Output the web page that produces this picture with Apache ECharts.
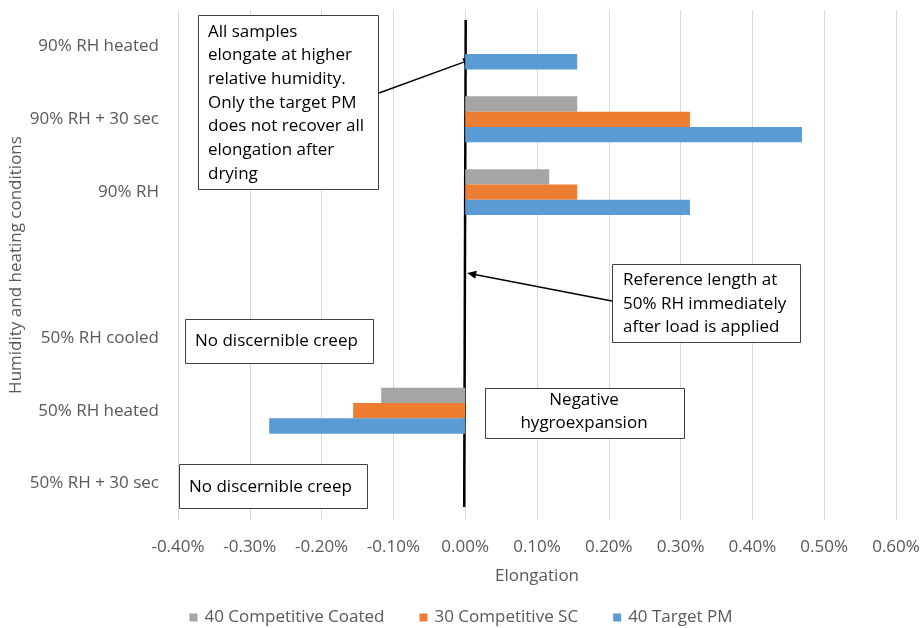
<!DOCTYPE html>
<html>
<head>
<meta charset="utf-8">
<script src="https://cdn.jsdelivr.net/npm/echarts@6/dist/echarts.min.js"></script>
<style>
  html, body { margin: 0; padding: 0; background: #fff; }
  #chart { width: 922px; height: 628px; }
</style>
</head>
<body>
<div id="chart"></div>
<script>
// Conditions, listed bottom to top; the blank slot separates the 50% and 90% RH groups
const conditions = ['50% RH + 30 sec', '50% RH heated', '50% RH cooled', '', '90% RH', '90% RH + 30 sec', '90% RH heated'];

// Elongation in percent
const targetPM = [0, -0.273, 0, null, 0.313, 0.469, 0.156];
const competitiveSC = [0, -0.156, 0, null, 0.156, 0.313, null];
const competitiveCoated = [0, -0.117, 0, null, 0.117, 0.156, null];

const xMin = -0.4, xMax = 0.6, xStep = 0.1;

const FONT = '"Open Sans", "Noto Sans", sans-serif';
const GREY_TEXT = '#595959';
const FS = 17;
const Y_TITLE = 'Humidity and heating conditions';

const chart = echarts.init(document.getElementById('chart'));

function bar(name, color, data) {
  return {
    name: name,
    type: 'bar',
    data: data,
    barGap: '0%',
    barCategoryGap: '37%',
    itemStyle: { color: color },
    silent: true
  };
}

chart.setOption({
  animation: false,
  textStyle: { fontFamily: FONT },
  grid: { left: 178, right: 26, top: 10, bottom: 108, containLabel: false, outerBoundsMode: 'none' },
  xAxis: {
    type: 'value',
    min: xMin,
    max: xMax,
    interval: xStep,
    axisLine: { show: false },
    axisTick: { show: false },
    splitLine: { lineStyle: { color: '#d9d9d9', width: 1 } },
    axisLabel: {
      color: GREY_TEXT,
      fontSize: FS,
      margin: 19,
      formatter: v => v.toFixed(2) + '%'
    },
    name: 'Elongation',
    nameLocation: 'middle',
    nameGap: 48,
    nameMoveOverlap: false,
    nameTextStyle: { color: GREY_TEXT, fontSize: FS }
  },
  yAxis: {
    type: 'category',
    data: conditions,
    axisLine: { show: false, onZero: false },
    axisTick: { show: false },
    axisLabel: { color: GREY_TEXT, fontSize: FS, margin: 19 }
  },
  legend: {
    top: 604,
    left: 'center',
    icon: 'rect',
    itemWidth: 8,
    itemHeight: 8,
    itemGap: 35,
    textStyle: { color: GREY_TEXT, fontSize: FS, padding: [0, 0, 0, 2] },
    data: ['40 Competitive Coated', '30 Competitive SC', '40 Target PM']
  },
  // Series drawn top to bottom within each condition
  series: [
    bar('40 Competitive Coated', '#a5a5a5', competitiveCoated),
    bar('30 Competitive SC', '#ed7d31', competitiveSC),
    bar('40 Target PM', '#5b9bd5', targetPM)
  ]
});

// Reference line at zero elongation plus the callout boxes and their arrows
const x0 = chart.convertToPixel({ xAxisIndex: 0 }, 0);

function box(x, y, w, h, text, tx, ty, opts) {
  opts = opts || {};
  return {
    type: 'group',
    children: [
      {
        type: 'rect',
        shape: { x: x + 0.5, y: y + 0.5, width: w, height: h },
        style: { fill: '#fff', stroke: '#404040', lineWidth: 1 }
      },
      {
        type: 'text',
        x: tx,
        y: ty,
        style: {
          text: text,
          fill: '#000',
          font: FS + 'px ' + FONT,
          lineHeight: opts.lineHeight || 24,
          align: opts.align || 'left',
          verticalAlign: opts.verticalAlign || 'top'
        }
      }
    ]
  };
}

function arrow(x1, y1, x2, y2) {
  const ang = Math.atan2(y2 - y1, x2 - x1);
  const len = 9, half = 4;
  const bx = x2 - len * Math.cos(ang), by = y2 - len * Math.sin(ang);
  const px = -Math.sin(ang) * half, py = Math.cos(ang) * half;
  return {
    type: 'group',
    children: [
      {
        type: 'line',
        shape: { x1: x1, y1: y1, x2: bx, y2: by },
        style: { stroke: '#000', lineWidth: 1.5 }
      },
      {
        type: 'polygon',
        shape: { points: [[x2, y2], [bx + px, by + py], [bx - px, by - py]] },
        style: { fill: '#000' }
      }
    ]
  };
}

chart.setOption({
  graphic: [
    // Vertical axis title
    {
      type: 'text',
      x: 16,
      y: 265,
      rotation: Math.PI / 2,
      style: {
        text: Y_TITLE,
        fill: GREY_TEXT,
        font: FS + 'px ' + FONT,
        align: 'center',
        verticalAlign: 'middle'
      }
    },
    {
      type: 'line',
      shape: { x1: x0 + 0.5, y1: 20, x2: x0 - 1, y2: 507 },
      style: { stroke: '#000', lineWidth: 2.5 }
    },
    box(198, 15, 180, 174,
      'All samples\nelongate at higher\nrelative humidity.\nOnly the target PM\ndoes not recover all\nelongation after\ndrying',
      208, 20, { lineHeight: 23.7 }),
    arrow(379, 93, x0 + 7, 59),
    box(612, 264, 188, 78,
      'Reference length at\n50% RH immediately\nafter load is applied',
      623, 268, { lineHeight: 23.8 }),
    arrow(612, 301, x0 + 2, 273),
    box(185, 319, 188, 44, 'No discernible creep', 195, 341, { verticalAlign: 'middle' }),
    box(485, 388, 199, 50, 'Negative\nhygroexpansion', 584, 389, { align: 'center', lineHeight: 23 }),
    box(179, 464, 188, 44, 'No discernible creep', 189, 487, { verticalAlign: 'middle' })
  ]
});
</script>
</body>
</html>
